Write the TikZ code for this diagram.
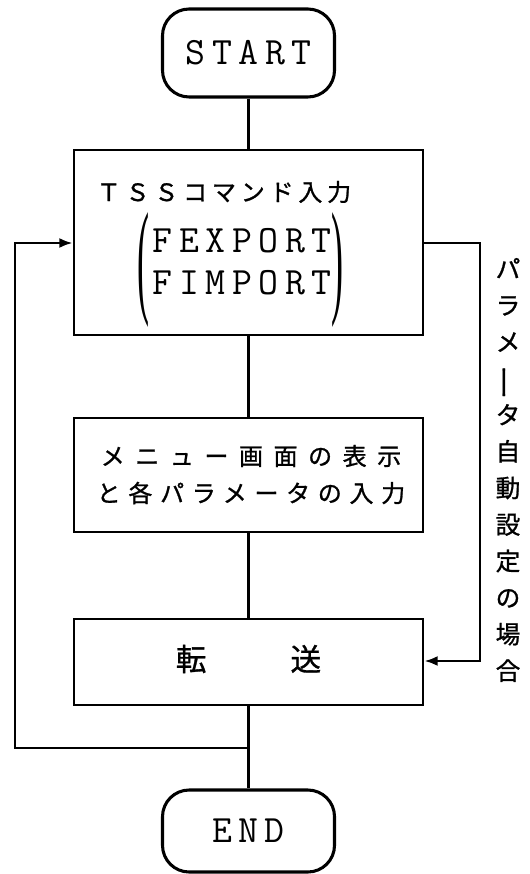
\documentclass[tikz,border=0pt]{standalone}
\usepackage{fontspec}
\setmainfont{Liberation Serif}
\newfontfamily\lat[LetterSpace=17]{Latin Modern Mono}
\newfontfamily\jp[FakeBold=1]{Noto Sans CJK JP}
\newfontfamily\jpa[LetterSpace=20,FakeBold=1]{Noto Sans CJK JP}
\newfontfamily\jpb[LetterSpace=44,FakeBold=1]{Noto Sans CJK JP}
\newfontfamily\jpc[LetterSpace=32,FakeBold=1]{Noto Sans CJK JP}
\usetikzlibrary{arrows.meta}
\begin{document}
\begin{tikzpicture}[x=0.75pt,y=-0.75pt,
  term/.style={draw, line width=2.3pt, rounded corners=20pt, minimum width=129pt, minimum height=66pt, inner sep=0pt, font=\lat\fontsize{29pt}{34pt}\selectfont},
  procbox/.style={draw, line width=2pt, inner sep=0pt, minimum width=261.75pt},
  conn/.style={line width=1.9pt},
  arr/.style={conn, -{Latex[length=10pt,width=7.5pt]}},
  lattext/.style={font=\lat\fontsize{29pt}{34pt}\selectfont, inner sep=0pt},
  jptext/.style={font=\jpa\fontsize{18pt}{28.5pt}\selectfont, inner sep=0pt},
  paren/.style={inner sep=0pt, font=\fontsize{40pt}{40pt}\selectfont},
  bigjp/.style={font=\jp\fontsize{23pt}{28pt}\selectfont, inner sep=0pt},
  vlabel/.style={font=\jp\fontsize{18.5pt}{27.4pt}\selectfont, inner sep=0pt, align=center}
]
\useasboundingbox (0,0) rectangle (529,874);
% terminals
\node[term] (start) at (248.5,53) {START};
\node[term, minimum height=61.5pt] (end) at (248.5,831) {END};
% boxes
\node[procbox, minimum height=138.75pt] (box1) at (248.5,242.5) {};
\node[procbox, minimum height=85.5pt] (box2) at (248.5,475) {};
\node[procbox, minimum height=64.5pt] (box3) at (248.5,662) {};
% box1 texts
\node[jptext] (cmd) at (224,192) {ＴＳＳコマンド入力};
\node[lattext] (fex) at (242,241) {FEXPORT};
\node[lattext] (fim) at (242,283) {FIMPORT};
\node[paren] (lp) at (143,270) {\resizebox{9pt}{66pt}{(}};
\node[paren] (rp) at (337,270) {\resizebox{9pt}{66pt}{)}};
% box2 text
\node[font=\jpb\fontsize{18pt}{28.5pt}\selectfont, inner sep=0pt] (menu1) at (251,456) {メニュー画面の表示};
\node[font=\jpc\fontsize{18pt}{28.5pt}\selectfont, inner sep=0pt] (menu2) at (251,493) {と各パラメータの入力};
% box3 text
\node[bigjp] (tenso) at (248.5,659) {転\hspace{63pt}送};
% vertical label
\node[vlabel] (auto) at (508,470) {パ\\ラ\\メ\\\rotatebox[origin=c]{90}{\scalebox{1.4}[1]{ー}}\\タ\\自\\動\\設\\定\\の\\場\\合};
% connectors
\draw[conn] (start) -- (box1);
\draw[conn] (box1) -- (box2);
\draw[conn] (box2) -- (box3);
\draw[conn] (box3) -- (end);
\coordinate (j) at (248.5,748);
\coordinate (lc) at (15,243);
\draw[arr] (j) -| (lc) -- (lc -| box1.west);
\coordinate (rc) at (480,243);
\coordinate (rc2) at (480,661);
\draw[arr] (rc -| box1.east) -- (rc) -- (rc2) -- (rc2 -| box3.east);
\end{tikzpicture}
\end{document}
